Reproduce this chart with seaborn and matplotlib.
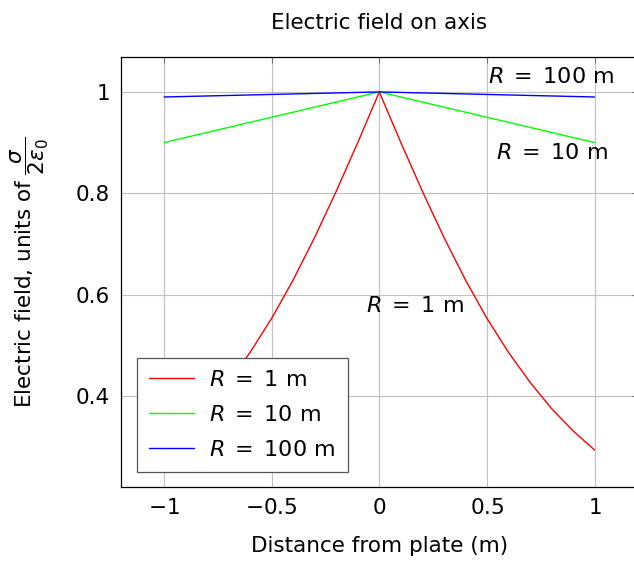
import matplotlib
matplotlib.use("Agg")
import matplotlib.pyplot as plt
import seaborn as sns
import pandas as pd

# Data
x_r1 = [-1.0, -0.9, -0.8, -0.7, -0.6, -0.5, -0.4, -0.3, -0.2, -0.1, 0.0,
        0.1, 0.2, 0.3, 0.4, 0.5, 0.6, 0.7, 0.8, 0.9, 1.0]
y_r1 = [0.293, 0.331, 0.375, 0.427, 0.486, 0.553, 0.629, 0.713, 0.804, 0.900, 1.0,
        0.900, 0.804, 0.713, 0.629, 0.553, 0.486, 0.427, 0.375, 0.331, 0.293]
x_r10 = [-1.0, 0.0, 1.0]
y_r10 = [0.900, 1.0, 0.900]
x_r100 = [-1.0, 0.0, 1.0]
y_r100 = [0.990, 1.0, 0.990]
labels = [r"$R\;=\;1$ m", r"$R\;=\;10$ m", r"$R\;=\;100$ m"]
colors = ["#ff0000", "#00ff00", "#0000ff"]
xticks = [-1, -0.5, 0, 0.5, 1]
xtick_labels = ["$-1$", "$-0.5$", "$0$", "$0.5$", "$1$"]
yticks = [0.4, 0.6, 0.8, 1.0]
ytick_labels = ["0.4", "0.6", "0.8", "1"]

df = pd.concat([
    pd.DataFrame({"x": x_r1, "y": y_r1, "series": labels[0]}),
    pd.DataFrame({"x": x_r10, "y": y_r10, "series": labels[1]}),
    pd.DataFrame({"x": x_r100, "y": y_r100, "series": labels[2]}),
], ignore_index=True)

sns.set_style("white")
plt.rcParams["font.family"] = ["DejaVu Sans"]
plt.rcParams["mathtext.fontset"] = "dejavusans"
for k in ["text.color", "axes.labelcolor", "xtick.labelcolor", "ytick.labelcolor"]:
    plt.rcParams[k] = "black"

fig = plt.figure(figsize=(6.34, 5.64), dpi=100)
ax = fig.add_axes([0.1909, 0.1365, 0.8148, 0.7625])

sns.lineplot(data=df, x="x", y="y", hue="series", palette=dict(zip(labels, colors)),
             hue_order=labels, sort=False, linewidth=1.0, ax=ax, zorder=3)

ax.set_xlim(-1.2, 1.2)
ax.set_ylim(0.22, 1.069)
ax.set_xticks(xticks)
ax.set_xticklabels(xtick_labels)
ax.set_yticks(yticks)
ax.set_yticklabels(ytick_labels)
ax.grid(True, color="#c0c0c0", linewidth=0.8, zorder=0)
ax.tick_params(direction="in", length=4, color="#707070", labelsize=15.5,
               top=True, right=True, pad=8)
for s in ax.spines.values():
    s.set_color("black")
    s.set_linewidth(0.9)

ax.set_title("Electric field on axis", fontsize=15.5, pad=20)
ax.set_xlabel("Distance from plate (m)", fontsize=15.5, labelpad=13)
ax.set_ylabel(r"Electric field, units of $\dfrac{\sigma}{2\epsilon_0}$", fontsize=15.5, labelpad=18)

ax.text(0.80, 1.030, labels[2], fontsize=16, ha="center", va="center", zorder=4)
ax.text(0.80, 0.879, labels[1], fontsize=16, ha="center", va="center", zorder=4)
ax.text(0.167, 0.578, labels[0], fontsize=16, ha="center", va="center", zorder=4)

handles, _ = ax.get_legend_handles_labels()
leg = ax.legend(handles, labels, loc="lower left", bbox_to_anchor=(0.031, 0.035), fontsize=16,
                frameon=True, fancybox=False, framealpha=1, edgecolor="#555555",
                handlelength=2.0, handletextpad=0.7, borderpad=0.55, labelspacing=0.67,
                borderaxespad=0)
leg.get_frame().set_linewidth(0.9)
leg.set_zorder(5)

fig.savefig("out.png", dpi=100)
